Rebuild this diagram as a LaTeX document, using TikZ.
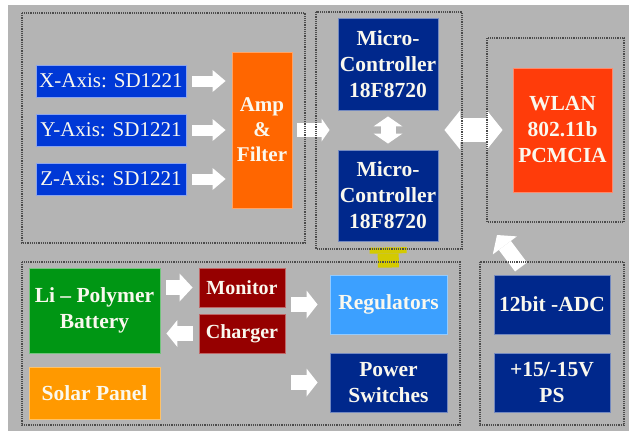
\documentclass[tikz,border=0pt]{standalone}
\usepackage{fontspec}
\setmainfont{Liberation Serif}
\usetikzlibrary{arrows.meta,positioning}
\definecolor{panelgray}{RGB}{180,180,180}
\definecolor{sensblue}{RGB}{0,56,214}
\definecolor{navy}{RGB}{0,40,140}
\definecolor{amporange}{RGB}{255,102,0}
\definecolor{wlanred}{RGB}{255,60,10}
\definecolor{battgreen}{RGB}{0,150,20}
\definecolor{monred}{RGB}{150,0,0}
\definecolor{reglight}{RGB}{60,160,255}
\definecolor{solarorange}{RGB}{255,153,0}
\definecolor{feedyellow}{RGB}{212,202,0}
\definecolor{labelwhite}{RGB}{250,248,238}
\tikzset{
  box/.style={
    rectangle,
    inner sep=0pt,
    line width=0.9pt,
    align=center,
    text=labelwhite,
    font=\fontsize{21.5}{26}\selectfont\bfseries
  },
  sensor/.style={
    box,
    fill=sensblue,
    draw=sensblue!45!white,
    minimum width=150pt,
    minimum height=32pt,
    font=\fontsize{21}{25}\selectfont
  },
  navybox/.style={
    box,
    fill=navy,
    draw=navy!55!white
  },
  power/.style={
    box,
    fill=monred,
    draw=monred!60!white,
    minimum width=86pt,
    minimum height=39pt,
    font=\fontsize{20}{24}\selectfont\bfseries
  },
  group/.style={
    draw=black!70,
    densely dotted,
    line width=1.2pt
  },
  fat/.style={
    draw=white,
    line width=#1
  },
  fat/.default=11pt
}

\begin{document}
\begin{tikzpicture}[x=1pt,y=-1pt]
  \useasboundingbox (0,0) rectangle (629,431);
  \fill[panelgray] (8,5) rectangle (629,431);

  % sensors and signal path
  \node[sensor] (xaxis) at (111,81) {X-Axis: SD1221};
  \node[sensor] (yaxis) at (111,130) {Y-Axis: SD1221};
  \node[sensor] (zaxis) at (111,179) {Z-Axis: SD1221};
  \node[box, fill=amporange, draw=amporange!60!white, minimum width=60pt, minimum height=156pt, font=\fontsize{21}{25}\selectfont\bfseries] (amp) at (262,130) {Amp\\\&\\Filter};

  \node[navybox, minimum width=100pt, minimum height=92pt] (mcu1) at (388,64) {Micro-\\Controller\\18F8720};
  \node[navybox, minimum width=100pt, minimum height=91pt] (mcu2) at (388,195.5) {Micro-\\Controller\\18F8720};
  \node[box, fill=wlanred, draw=wlanred!60!white, minimum width=99pt, minimum height=124pt] (wlan) at (562.5,130) {WLAN\\802.11b\\PCMCIA};

  % power side
  \node[box, fill=battgreen, draw=battgreen!55!white, minimum width=131pt, minimum height=85pt] (battery) at (94.5,310.5) {Li -- Polymer\\Battery};
  \node[power] (monitor) at (242,287.5) {Monitor};
  \node[power] (charger) at (242,333.5) {Charger};
  \node[box, fill=solarorange, draw=solarorange!60!white, minimum width=131pt, minimum height=52pt] (solar) at (94.5,393) {Solar Panel};
  \node[box, fill=reglight, draw=reglight!55!white, minimum width=117pt, minimum height=59pt] (regulators) at (388.5,304.5) {Regulators};
  \node[navybox, minimum width=117pt, minimum height=59pt] (switches) at (388.5,382.5) {Power\\Switches};
  \node[navybox, minimum width=116pt, minimum height=59pt] (adc) at (552,304.5) {12bit -ADC};
  \node[navybox, minimum width=116pt, minimum height=59pt] (supply) at (552,382.5) {+15/-15V\\PS};

  \coordinate (adctail) at (521,267);
  \coordinate (wlantip) at (497,235);

  % block arrows
  \foreach \s in {xaxis,yaxis,zaxis}
    \draw[fat, -{Triangle[length=13pt,width=22pt,line width=0pt]}, shorten <=6pt, shorten >=6pt] (\s.east) -- (\s.east -| amp.west);
  \draw[fat=14pt, -{Triangle[length=8pt,width=23pt,line width=0pt]}, shorten <=5pt, shorten >=8pt] (amp.east) -- (amp.east -| mcu1.west);
  \draw[fat=15pt, {Triangle[length=10pt,width=29pt,line width=0pt]}-{Triangle[length=10pt,width=29pt,line width=0pt]}, shorten <=6pt, shorten >=6pt] (mcu1.south) -- (mcu2.north);
  \draw[fat=24pt, {Triangle[length=16pt,width=40pt,line width=0pt]}-{Triangle[length=16pt,width=40pt,line width=0pt]}, shorten <=6pt, shorten >=10pt] (mcu1.east |- wlan.west) -- (wlan.west);
  \draw[fat=15pt, -{Triangle[length=13pt,width=28pt,line width=0pt]}, shorten <=6pt, shorten >=6pt] (battery.east |- monitor) -- (monitor.west);
  \draw[fat=15pt, -{Triangle[length=11pt,width=27pt,line width=0pt]}, shorten <=6pt, shorten >=6pt] (charger.west) -- (charger.west -| battery.east);
  \draw[fat=15pt, -{Triangle[length=11pt,width=28pt,line width=0pt]}, shorten <=6pt, shorten >=12pt] (monitor.east |- regulators) -- (regulators.west);
  \draw[fat=15pt, -{Triangle[length=11pt,width=28pt,line width=0pt]}, shorten <=6pt, shorten >=12pt] (monitor.east |- switches) -- (switches.west);
  \draw[fat=15pt, -{Triangle[length=13pt,width=30pt,line width=0pt]}] (adctail) -- (wlantip);
  \draw[draw=feedyellow, line width=21pt, -{Rectangle[length=6pt,width=37pt,line width=0pt]}, shorten <=7pt, shorten >=6pt] (regulators.north) -- (mcu2.south);

  % dotted groups, drawn over the arrows
  \draw[group] (22,13) rectangle (305,243);
  \draw[group] (316,12) rectangle (462,249);
  \draw[group] (487,38) rectangle (624,222);
  \draw[group] (22,262) rectangle (460,425);
  \draw[group] (480,262) rectangle (624,425);
\end{tikzpicture}
\end{document}
